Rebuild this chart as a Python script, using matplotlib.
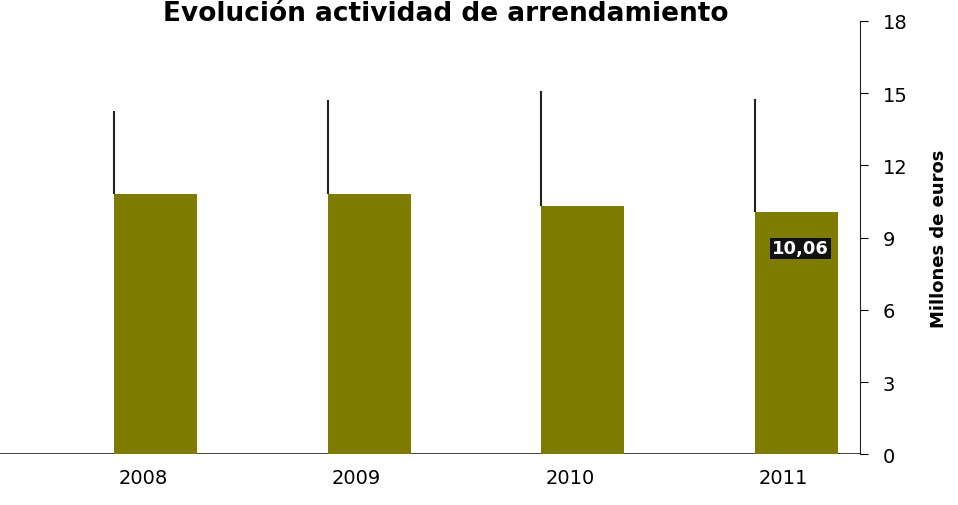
import numpy as np
import matplotlib.pyplot as plt

# data
years = ["2008", "2009", "2010", "2011"]
arrend = [10.8, 10.8, 10.3, 10.06]
tope = [14.25, 14.7, 15.1, 14.75]
etiqueta = "10,06"

fig = plt.figure(figsize=(9.58, 5.06), dpi=100)
ax = fig.add_axes([0.0, 0.10, 0.898, 0.857])

x = np.arange(len(years))
off = 0.06
w = 0.39
ax.bar(x + off, arrend, width=w, color="#7d7b00", zorder=2)
# thin dark lines at left edge of each bar
ax.vlines(x + off - w / 2, arrend, tope, color="#222222", lw=1.5, zorder=3)

ax.axhline(0, color="#222222", lw=1.2, zorder=1)

ax.set_xlim(-0.67, 3.36)
ax.set_ylim(0, 18)
ax.set_xticks(x)
ax.set_xticklabels(years, fontsize=14)
ax.tick_params(axis="x", length=0, pad=10)

ax.yaxis.tick_right()
ax.yaxis.set_label_position("right")
ax.set_yticks(np.arange(0, 19, 3))
ax.tick_params(axis="y", labelsize=14, length=6, pad=10)
ax.set_ylabel("Millones de euros", fontsize=13, fontweight="bold", labelpad=16)

for s in ["left", "top", "bottom"]:
    ax.spines[s].set_visible(False)
ax.spines["right"].set_color("#222222")

ax.text(3.08, 8.55, etiqueta, color="white", fontsize=13, fontweight="bold",
        ha="center", va="center",
        bbox=dict(boxstyle="square,pad=0.1", fc="#111111", ec="none"), zorder=4)

fig.text(0.465, 0.998, "Evolución actividad de arrendamiento", fontsize=19,
         fontweight="bold", ha="center", va="top")

fig.savefig("out.png", dpi=100)
